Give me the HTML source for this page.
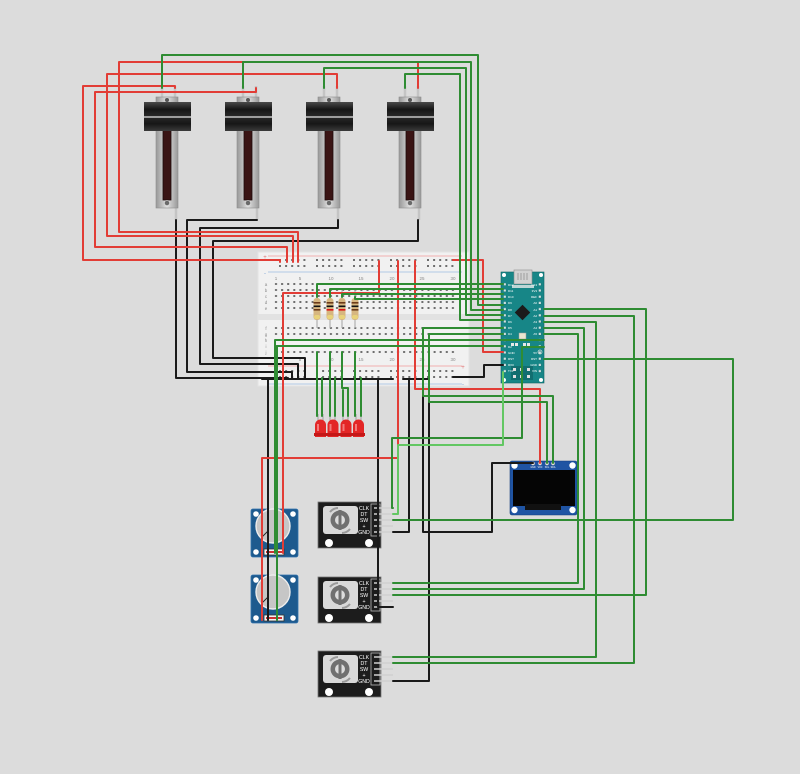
<!DOCTYPE html>
<html><head><meta charset="utf-8"><style>html,body{margin:0;padding:0;background:#dcdcdc;}svg{display:block}</style></head><body>
<svg width="800" height="774" viewBox="0 0 800 774" xmlns="http://www.w3.org/2000/svg" font-family="'Liberation Sans', sans-serif">
<defs>
<linearGradient id="sb" x1="0" x2="1" y1="0" y2="0"><stop offset="0" stop-color="#989898"/><stop offset=".5" stop-color="#e0e0e0"/><stop offset="1" stop-color="#989898"/></linearGradient>
<linearGradient id="kb" x1="0" x2="0" y1="0" y2="1"><stop offset="0" stop-color="#4a4a4a"/><stop offset=".25" stop-color="#161616"/><stop offset=".5" stop-color="#2a2a2a"/><stop offset=".75" stop-color="#161616"/><stop offset="1" stop-color="#3a3a3a"/></linearGradient>
<pattern id="th" x="0" y="0" width="6.1" height="6" patternUnits="userSpaceOnUse"><rect x="2" y="2" width="2" height="2" fill="#6e6e6e"/></pattern>
<pattern id="rh" x="0" y="0" width="37" height="6" patternUnits="userSpaceOnUse"><rect x="0" y="0" width="2" height="2" fill="#6e6e6e"/><rect x="6.1" y="0" width="2" height="2" fill="#6e6e6e"/><rect x="12.2" y="0" width="2" height="2" fill="#6e6e6e"/><rect x="18.3" y="0" width="2" height="2" fill="#6e6e6e"/><rect x="24.4" y="0" width="2" height="2" fill="#6e6e6e"/></pattern>
<pattern id="ap" x="0" y="0" width="5" height="6.2" patternUnits="userSpaceOnUse"><rect x="0" y="0" width="2.6" height="2.6" fill="#cfe3e3" stroke="#0d5f60" stroke-width=".4"/></pattern>
</defs>
<rect width="800" height="774" fill="#dcdcdc"/>

<!-- sliders -->
<g transform="translate(144,0)">
<line x1="18" y1="86" x2="18" y2="99" stroke="#c4c4c4" stroke-width="2.5"/><line x1="31" y1="86" x2="31" y2="99" stroke="#c4c4c4" stroke-width="2.5"/><line x1="32" y1="206" x2="32" y2="220" stroke="#c4c4c4" stroke-width="2.5"/>
<rect x="12" y="97" width="22" height="111" fill="url(#sb)" stroke="#8e8e8e" stroke-width=".6"/>
<rect x="19" y="130" width="8" height="70" fill="#3a1414" stroke="#1c0909" stroke-width=".8"/>
<rect x="0" y="102" width="47" height="29" fill="url(#kb)"/>
<line x1="0" y1="117" x2="47" y2="117" stroke="#e4e4e4" stroke-width="1.3"/>
<circle cx="23" cy="100" r="2" fill="#555"/><circle cx="23" cy="203" r="2.6" fill="#6a6a6a" stroke="#e0e0e0" stroke-width=".6"/>
</g>
<g transform="translate(225,0)">
<line x1="18" y1="86" x2="18" y2="99" stroke="#c4c4c4" stroke-width="2.5"/><line x1="31" y1="86" x2="31" y2="99" stroke="#c4c4c4" stroke-width="2.5"/><line x1="32" y1="206" x2="32" y2="220" stroke="#c4c4c4" stroke-width="2.5"/>
<rect x="12" y="97" width="22" height="111" fill="url(#sb)" stroke="#8e8e8e" stroke-width=".6"/>
<rect x="19" y="130" width="8" height="70" fill="#3a1414" stroke="#1c0909" stroke-width=".8"/>
<rect x="0" y="102" width="47" height="29" fill="url(#kb)"/>
<line x1="0" y1="117" x2="47" y2="117" stroke="#e4e4e4" stroke-width="1.3"/>
<circle cx="23" cy="100" r="2" fill="#555"/><circle cx="23" cy="203" r="2.6" fill="#6a6a6a" stroke="#e0e0e0" stroke-width=".6"/>
</g>
<g transform="translate(306,0)">
<line x1="18" y1="86" x2="18" y2="99" stroke="#c4c4c4" stroke-width="2.5"/><line x1="31" y1="86" x2="31" y2="99" stroke="#c4c4c4" stroke-width="2.5"/><line x1="32" y1="206" x2="32" y2="220" stroke="#c4c4c4" stroke-width="2.5"/>
<rect x="12" y="97" width="22" height="111" fill="url(#sb)" stroke="#8e8e8e" stroke-width=".6"/>
<rect x="19" y="130" width="8" height="70" fill="#3a1414" stroke="#1c0909" stroke-width=".8"/>
<rect x="0" y="102" width="47" height="29" fill="url(#kb)"/>
<line x1="0" y1="117" x2="47" y2="117" stroke="#e4e4e4" stroke-width="1.3"/>
<circle cx="23" cy="100" r="2" fill="#555"/><circle cx="23" cy="203" r="2.6" fill="#6a6a6a" stroke="#e0e0e0" stroke-width=".6"/>
</g>
<g transform="translate(387,0)">
<line x1="18" y1="86" x2="18" y2="99" stroke="#c4c4c4" stroke-width="2.5"/><line x1="31" y1="86" x2="31" y2="99" stroke="#c4c4c4" stroke-width="2.5"/><line x1="32" y1="206" x2="32" y2="220" stroke="#c4c4c4" stroke-width="2.5"/>
<rect x="12" y="97" width="22" height="111" fill="url(#sb)" stroke="#8e8e8e" stroke-width=".6"/>
<rect x="19" y="130" width="8" height="70" fill="#3a1414" stroke="#1c0909" stroke-width=".8"/>
<rect x="0" y="102" width="47" height="29" fill="url(#kb)"/>
<line x1="0" y1="117" x2="47" y2="117" stroke="#e4e4e4" stroke-width="1.3"/>
<circle cx="23" cy="100" r="2" fill="#555"/><circle cx="23" cy="203" r="2.6" fill="#6a6a6a" stroke="#e0e0e0" stroke-width=".6"/>
</g>

<!-- breadboard -->
<rect x="258" y="252" width="211" height="134" fill="#f1f1f1" stroke="#e4e4e4" stroke-width="1"/>
<rect x="258" y="314" width="211" height="6" fill="#e2e2e2"/>
<line x1="268" y1="256" x2="462" y2="256" stroke="#f09a9a" stroke-width=".7"/>
<line x1="268" y1="272" x2="462" y2="272" stroke="#9bbbe0" stroke-width=".7"/>
<line x1="268" y1="366" x2="462" y2="366" stroke="#f09a9a" stroke-width=".7"/>
<line x1="268" y1="384" x2="462" y2="384" stroke="#9bbbe0" stroke-width=".7"/>
<g transform="translate(279,259)"><rect x="0" y="0" width="185" height="12" fill="url(#rh)"/></g>
<g transform="translate(279,370)"><rect x="0" y="0" width="185" height="12" fill="url(#rh)"/></g>
<g transform="translate(273,281)"><rect x="0" y="0" width="183" height="30" fill="url(#th)"/></g>
<g transform="translate(273,325)"><rect x="0" y="0" width="183" height="30" fill="url(#th)"/></g>
<g font-size="4.5" fill="#8a8a8a" text-anchor="middle">
<text x="276" y="280">1</text><text x="300" y="280">5</text><text x="331" y="280">10</text><text x="361" y="280">15</text><text x="392" y="280">20</text><text x="422" y="280">25</text><text x="453" y="280">30</text>
<text x="276" y="361">1</text><text x="300" y="361">5</text><text x="331" y="361">10</text><text x="361" y="361">15</text><text x="392" y="361">20</text><text x="422" y="361">25</text><text x="453" y="361">30</text>
<text x="266" y="286">a</text><text x="266" y="292">b</text><text x="266" y="298">c</text><text x="266" y="304">d</text><text x="266" y="310">e</text>
<text x="266" y="330">f</text><text x="266" y="336">g</text><text x="266" y="342">h</text><text x="266" y="348">i</text><text x="266" y="354">j</text>
</g>
<g font-size="6" fill="#e07070" text-anchor="middle"><text x="265" y="259">+</text><text x="463" y="369">+</text></g>
<g font-size="6" fill="#7da4d4" text-anchor="middle"><text x="265" y="275">-</text><text x="463" y="386">-</text></g>

<!-- resistors -->
<g>
<line x1="317" y1="290" x2="317" y2="328" stroke="#b0b0b0" stroke-width="1.2"/>
<line x1="330" y1="290" x2="330" y2="328" stroke="#b0b0b0" stroke-width="1.2"/>
<line x1="342" y1="290" x2="342" y2="328" stroke="#b0b0b0" stroke-width="1.2"/>
<line x1="355" y1="290" x2="355" y2="328" stroke="#b0b0b0" stroke-width="1.2"/>
<rect x="313.5" y="298" width="7" height="22" rx="3" fill="#d6b680"/>
<rect x="326.5" y="298" width="7" height="22" rx="3" fill="#d6b680"/>
<rect x="338.5" y="298" width="7" height="22" rx="3" fill="#d6b680"/>
<rect x="351.5" y="298" width="7" height="22" rx="3" fill="#d6b680"/>
<g fill="#6b3b1a"><rect x="313.5" y="302" width="7" height="1.6"/><rect x="326.5" y="302" width="7" height="1.6"/><rect x="338.5" y="302" width="7" height="1.6"/><rect x="351.5" y="302" width="7" height="1.6"/></g>
<g fill="#111"><rect x="313.5" y="305.5" width="7" height="1.6"/><rect x="326.5" y="305.5" width="7" height="1.6"/><rect x="338.5" y="305.5" width="7" height="1.6"/><rect x="351.5" y="305.5" width="7" height="1.6"/></g>
<g><rect x="313.5" y="309" width="7" height="1.6" fill="#6b3b1a"/><rect x="326.5" y="309" width="7" height="1.6" fill="#d11"/><rect x="338.5" y="309" width="7" height="1.6" fill="#d11"/><rect x="351.5" y="309" width="7" height="1.6" fill="#6b3b1a"/></g>
<g fill="#e8d27a"><rect x="314" y="315" width="6" height="4" rx="2"/><rect x="327" y="315" width="6" height="4" rx="2"/><rect x="339" y="315" width="6" height="4" rx="2"/><rect x="352" y="315" width="6" height="4" rx="2"/></g>
</g>

<!-- Arduino Nano -->
<rect x="501" y="272" width="43" height="111" fill="#178687" stroke="#0f6566" stroke-width=".6"/>
<rect x="514" y="270" width="18" height="14" fill="#d2d2d2" stroke="#8c8c8c" stroke-width=".6"/>
<path d="M518,273 v7 M521,273 v7 M524,273 v7 M527,273 v7" stroke="#888" stroke-width=".7"/>
<rect x="512" y="285" width="22" height="3" fill="#bdd6d6"/>
<circle cx="504" cy="275" r="2" fill="#fff"/><circle cx="541" cy="275" r="2" fill="#fff"/><circle cx="504" cy="380" r="2" fill="#fff"/><circle cx="541" cy="380" r="2" fill="#fff"/>
<g transform="translate(503.5,283)"><rect x="0" y="0" width="3" height="93" fill="url(#ap)"/></g>
<g transform="translate(538.5,283)"><rect x="0" y="0" width="3" height="93" fill="url(#ap)"/></g>
<rect x="517" y="307" width="11" height="11" fill="#1b1b1b" transform="rotate(45 522.5 312.5)"/>
<rect x="519" y="333" width="7" height="6" fill="#e9e6cf" stroke="#999" stroke-width=".5"/>
<g fill="#e8e8e8"><rect x="511" y="343" width="3" height="3"/><rect x="515" y="343" width="3" height="3"/><rect x="523" y="343" width="3" height="3"/><rect x="527" y="343" width="3" height="3"/></g>
<rect x="511" y="366" width="22" height="14" fill="#126e70"/>
<g fill="#e0e0e0"><rect x="513" y="368" width="3" height="3"/><rect x="520" y="368" width="3" height="3"/><rect x="527" y="368" width="3" height="3"/><rect x="513" y="375" width="3" height="3"/><rect x="520" y="375" width="3" height="3"/><rect x="527" y="375" width="3" height="3"/></g>
<circle cx="540" cy="352" r="2" fill="none" stroke="#e0e0e0" stroke-width=".7"/>
<g font-size="3" fill="#ffffff">
<text x="508" y="286">D12</text><text x="508" y="292">D11</text><text x="508" y="298">D10</text><text x="508" y="304">D9</text><text x="508" y="311">D8</text><text x="508" y="317">D7</text><text x="508" y="323">D6</text><text x="508" y="329">D5</text><text x="508" y="335">D4</text><text x="508" y="341">D3</text><text x="508" y="348">D2</text><text x="508" y="354">GND</text><text x="508" y="360">RST</text><text x="508" y="366">RX0</text><text x="508" y="372">TX1</text>
</g>
<g font-size="3" fill="#ffffff" text-anchor="end">
<text x="537" y="286">D13</text><text x="537" y="292">3V3</text><text x="537" y="298">REF</text><text x="537" y="304">A0</text><text x="537" y="311">A1</text><text x="537" y="317">A2</text><text x="537" y="323">A3</text><text x="537" y="329">A4</text><text x="537" y="335">A5</text><text x="537" y="341">A6</text><text x="537" y="348">A7</text><text x="537" y="354">5V</text><text x="537" y="360">RST</text><text x="537" y="366">GND</text><text x="537" y="372">VIN</text>
</g>

<!-- OLED -->
<rect x="510" y="461" width="67" height="54" rx="2" fill="#1f54a3" stroke="#163f7c" stroke-width=".6"/>
<rect x="513" y="470" width="62" height="36" fill="#050505"/>
<rect x="525" y="504" width="36" height="6" fill="#111"/>
<circle cx="514.5" cy="465.5" r="3.2" fill="#fff"/><circle cx="572.5" cy="465.5" r="3.2" fill="#fff"/><circle cx="514.5" cy="510" r="3.2" fill="#fff"/><circle cx="572.5" cy="510" r="3.2" fill="#fff"/>
<g fill="#e6e6e6" stroke="#888" stroke-width=".4"><circle cx="533" cy="463.5" r="1.8"/><circle cx="540" cy="463.5" r="1.8"/><circle cx="547" cy="463.5" r="1.8"/><circle cx="553" cy="463.5" r="1.8"/></g>
<g font-size="2.3" fill="#fff" text-anchor="middle"><text x="533" y="468">GND</text><text x="540" y="468">VCC</text><text x="547" y="468">SCL</text><text x="553" y="468">SDA</text></g>

<!-- pots -->
<g>
<rect x="251" y="509" width="47" height="48" rx="2" fill="#1d5a8e" stroke="#2f72ad" stroke-width=".8"/>
<circle cx="273" cy="526" r="17" fill="#c6c6c6" stroke="#ececec" stroke-width="1.4"/>
<circle cx="256" cy="514" r="2.8" fill="#fff"/><circle cx="293" cy="514" r="2.8" fill="#fff"/><circle cx="256" cy="552" r="2.8" fill="#fff"/><circle cx="293" cy="552" r="2.8" fill="#fff"/>
<line x1="262" y1="537" x2="268" y2="531" stroke="#222" stroke-width=".9"/>
<rect x="264" y="549" width="20" height="6" fill="#f4f4f4" stroke="#333" stroke-width=".8"/>
<rect x="266" y="551" width="16" height="2" fill="#c33"/>
</g>
<g>
<rect x="251" y="575" width="47" height="48" rx="2" fill="#1d5a8e" stroke="#2f72ad" stroke-width=".8"/>
<circle cx="273" cy="592" r="17" fill="#c6c6c6" stroke="#ececec" stroke-width="1.4"/>
<circle cx="256" cy="580" r="2.8" fill="#fff"/><circle cx="293" cy="580" r="2.8" fill="#fff"/><circle cx="256" cy="618" r="2.8" fill="#fff"/><circle cx="293" cy="618" r="2.8" fill="#fff"/>
<line x1="262" y1="603" x2="268" y2="597" stroke="#222" stroke-width=".9"/>
<rect x="264" y="615" width="20" height="6" fill="#f4f4f4" stroke="#333" stroke-width=".8"/>
<rect x="266" y="617" width="16" height="2" fill="#c33"/>
</g>

<!-- encoders -->
<g>
<rect x="318" y="502" width="63" height="46" fill="#1c1c1c" stroke="#777" stroke-width=".8"/>
<rect x="323" y="506" width="35" height="28" rx="3" fill="#d9d9d9"/>
<path d="M330,512 a11,11 0 0 1 8,-4 M350,529 a11,11 0 0 1 -8,4" stroke="#9a9a9a" stroke-width="2" fill="none"/>
<circle cx="340" cy="520" r="9.5" fill="#707070"/><circle cx="340" cy="520" r="5" fill="#dcdcdc"/><rect x="338.5" y="510" width="3" height="20" fill="#707070"/>
<rect x="371" y="504" width="9" height="32" fill="none" stroke="#bbb" stroke-width=".8"/>
<g stroke="#d0d0d0" stroke-width="1.5"><line x1="374" y1="508" x2="393" y2="508"/><line x1="374" y1="514" x2="393" y2="514"/><line x1="374" y1="520" x2="393" y2="520"/><line x1="374" y1="526" x2="393" y2="526"/><line x1="374" y1="532" x2="393" y2="532"/></g>
<g font-size="5.2" fill="#fff" text-anchor="middle"><text x="364" y="510">CLK</text><text x="364" y="516">DT</text><text x="364" y="522">SW</text><text x="364" y="528">+</text><text x="364" y="534">GND</text></g>
<circle cx="329" cy="543" r="4" fill="#fff"/><circle cx="369" cy="543" r="4" fill="#fff"/>
</g>
<g>
<rect x="318" y="577" width="63" height="46" fill="#1c1c1c" stroke="#777" stroke-width=".8"/>
<rect x="323" y="581" width="35" height="28" rx="3" fill="#d9d9d9"/>
<path d="M330,587 a11,11 0 0 1 8,-4 M350,604 a11,11 0 0 1 -8,4" stroke="#9a9a9a" stroke-width="2" fill="none"/>
<circle cx="340" cy="595" r="9.5" fill="#707070"/><circle cx="340" cy="595" r="5" fill="#dcdcdc"/><rect x="338.5" y="585" width="3" height="20" fill="#707070"/>
<rect x="371" y="579" width="9" height="32" fill="none" stroke="#bbb" stroke-width=".8"/>
<g stroke="#d0d0d0" stroke-width="1.5"><line x1="374" y1="583" x2="393" y2="583"/><line x1="374" y1="589" x2="393" y2="589"/><line x1="374" y1="595" x2="393" y2="595"/><line x1="374" y1="601" x2="393" y2="601"/><line x1="374" y1="607" x2="393" y2="607"/></g>
<g font-size="5.2" fill="#fff" text-anchor="middle"><text x="364" y="585">CLK</text><text x="364" y="591">DT</text><text x="364" y="597">SW</text><text x="364" y="603">+</text><text x="364" y="609">GND</text></g>
<circle cx="329" cy="618" r="4" fill="#fff"/><circle cx="369" cy="618" r="4" fill="#fff"/>
</g>
<g>
<rect x="318" y="651" width="63" height="46" fill="#1c1c1c" stroke="#777" stroke-width=".8"/>
<rect x="323" y="655" width="35" height="28" rx="3" fill="#d9d9d9"/>
<path d="M330,661 a11,11 0 0 1 8,-4 M350,678 a11,11 0 0 1 -8,4" stroke="#9a9a9a" stroke-width="2" fill="none"/>
<circle cx="340" cy="669" r="9.5" fill="#707070"/><circle cx="340" cy="669" r="5" fill="#dcdcdc"/><rect x="338.5" y="659" width="3" height="20" fill="#707070"/>
<rect x="371" y="653" width="9" height="32" fill="none" stroke="#bbb" stroke-width=".8"/>
<g stroke="#d0d0d0" stroke-width="1.5"><line x1="374" y1="657" x2="393" y2="657"/><line x1="374" y1="663" x2="393" y2="663"/><line x1="374" y1="669" x2="393" y2="669"/><line x1="374" y1="675" x2="393" y2="675"/><line x1="374" y1="681" x2="393" y2="681"/></g>
<g font-size="5.2" fill="#fff" text-anchor="middle"><text x="364" y="659">CLK</text><text x="364" y="665">DT</text><text x="364" y="671">SW</text><text x="364" y="677">+</text><text x="364" y="683">GND</text></g>
<circle cx="329" cy="692" r="4" fill="#fff"/><circle cx="369" cy="692" r="4" fill="#fff"/>
</g>

<!-- LEDs -->
<g>
<g stroke="#a0a0a0" stroke-width="1"><path d="M318,414 V426 M323,414 V426 M330,414 V426 M335,414 V426 M343,414 V426 M348,414 V426 M356,414 V426 M361,414 V426"/></g>
<g fill="#e32626">
<path d="M315,437 V425 A5.5,5.5 0 0 1 326,425 V437 Z"/>
<path d="M327.5,437 V425 A5.5,5.5 0 0 1 338.5,425 V437 Z"/>
<path d="M340.5,437 V425 A5.5,5.5 0 0 1 351.5,425 V437 Z"/>
<path d="M353,437 V425 A5.5,5.5 0 0 1 364,425 V437 Z"/>
</g>
<g fill="#c41818"><rect x="314" y="433" width="13" height="3"/><rect x="326.5" y="433" width="13" height="3"/><rect x="339.5" y="433" width="13" height="3"/><rect x="352" y="433" width="13" height="3"/></g>
<g fill="#f37a7a"><rect x="317" y="424" width="2" height="7"/><rect x="329.5" y="424" width="2" height="7"/><rect x="342.5" y="424" width="2" height="7"/><rect x="355" y="424" width="2" height="7"/></g>
</g>

<!-- wires -->
<g fill="none" stroke-width="2" stroke-linejoin="round" stroke-linecap="round">
<!-- black -->
<g stroke="#1a1a1a">
<path d="M176,220 V378 H288"/>
<path d="M257,220 H187 V372 H292 V378"/>
<path d="M338,220 V228 H200 V364 H298 V378"/>
<path d="M418,220 V241 H213 V358 H305 V378"/>
<path d="M262,379 H393"/>
<path d="M403,379 H429"/>
<path d="M268,620 V379"/>
<path d="M393,607 H378 V379"/>
<path d="M393,532 H409 V379"/>
<path d="M533,463 H492 V532 H423 V379"/>
<path d="M393,681 H429 V379"/>
<path d="M453,377 H484 V365 H503"/>
</g>
<!-- red -->
<g stroke="#e23d36">
<path d="M175,88 V86 H83 V260 H280 V262"/>
<path d="M256,88 V92 H95 V247 H287 V262"/>
<path d="M337,88 V74 H107 V236 H293 V262"/>
<path d="M418,88 V62 H119 V232 H298 V262"/>
<path d="M379,261 V293 H283 V553"/>
<path d="M398,261 V458 H262 V620"/>
<path d="M415,261 V389 H540 V463"/>
<path d="M453,260 H483 V352 H503"/>
</g>
<!-- green -->
<g stroke="#2f8c33">
<path d="M162,88 V55 H478 V305 H503"/>
<path d="M243,88 V62 H471 V310 H503"/>
<path d="M324,88 V68 H466 V315 H503"/>
<path d="M405,88 V74 H460 V320 H503"/>
<path d="M317,297 V284 H503"/>
<path d="M330,297 V289 H503"/>
<path d="M342,297 V294 H503"/>
<path d="M355,297 V299 H503"/>
<path d="M275,553 V340 H544"/>
<path d="M277,620 V346 H503"/>
<path d="M503,328 H423 V396 H553 V463"/>
<path d="M503,334 H429 V402 H547 V463"/>
<path d="M544,347 H522 V438 H392 V508 H393"/>
<path d="M544,359 H733 V520 H393"/>
<path d="M544,309 H646 V595 H393"/>
<path d="M544,316 H634 V663 H393"/>
<path d="M544,322 H596 V657 H393"/>
<path d="M544,328 H584 V589 H393"/>
<path d="M544,334 H578 V583 H393"/>
<path d="M317,352 V416"/>
<path d="M330,352 V416"/>
<path d="M342,352 V388 H348 V416"/>
<path d="M355,352 V416"/>
<path d="M322,378 V416"/>
<path d="M335,378 V416"/>
<path d="M343,390 V416"/>
<path d="M361,378 V416"/>
</g>
<path d="M503,372 V445 H398 V514 H393" stroke="#63c763"/>
</g>
</svg>
</body></html>
